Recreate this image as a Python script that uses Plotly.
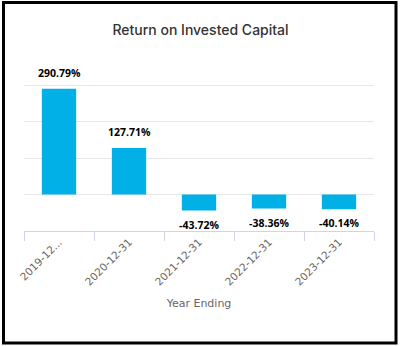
import plotly.graph_objects as go

categories = ["2019-12-31", "2020-12-31", "2021-12-31", "2022-12-31", "2023-12-31"]
tick_labels = ["2019-12...", "2020-12-31", "2021-12-31", "2022-12-31", "2023-12-31"]
roic_values = [290.79, 127.71, -43.72, -38.36, -40.14]
value_labels = ["290.79%", "127.71%", "-43.72%", "-38.36%", "-40.14%"]

W, H = 401, 346
ml, mr, mt, mb = 24, 27, 49, 115
pw = W - ml - mr
ph = H - mt - mb

def px_x(p):
    return (p - ml) / pw

def px_y(p):
    return (H - mb - p) / ph

fig = go.Figure()
fig.add_trace(go.Bar(
    x=categories, y=roic_values,
    marker=dict(color="#00B0E6", line=dict(width=0)),
    width=0.49,
    hoverinfo="skip",
))

for c, v, lab in zip(categories, roic_values, value_labels):
    fig.add_annotation(
        x=c, y=v, text="<b>%s</b>" % lab, showarrow=False,
        yanchor="bottom" if v >= 0 else "top",
        yshift=7 if v >= 0 else -5,
        font=dict(family="Open Sans, sans-serif", size=10.5, color="#000000"),
    )

fig.add_shape(
    type="rect", xref="paper", yref="paper",
    x0=px_x(3.5), x1=px_x(396), y0=px_y(343), y1=px_y(2.5),
    line=dict(color="#000000", width=3), fillcolor="rgba(0,0,0,0)", layer="above",
)

fig.update_layout(
    width=W, height=H,
    margin=dict(l=ml, r=mr, t=mt, b=mb),
    paper_bgcolor="white", plot_bgcolor="white",
    showlegend=False,
    title=dict(
        text="Return on Invested Capital",
        x=0.5, xanchor="center", xref="container",
        y=1 - 30 / H, yanchor="middle", yref="container",
        font=dict(family="Inter, sans-serif", size=14, color="#333333", weight=500),
    ),
    xaxis=dict(
        type="category",
        tickmode="array", tickvals=categories, ticktext=tick_labels,
        tickangle=-45,
        tickfont=dict(family="DejaVu Sans, sans-serif", size=10.5, color="#666666"),
        ticks="outside", tickson="boundaries", ticklen=9, tickcolor="#ccd6eb", tickwidth=1,
        showline=True, linecolor="#ccd6eb", linewidth=1,
        showgrid=False, zeroline=False,
        title=dict(text="Year Ending", standoff=12,
                   font=dict(family="DejaVu Sans, sans-serif", size=11, color="#666666")),
        fixedrange=True,
    ),
    yaxis=dict(
        range=[-100, 400], dtick=100, tick0=0,
        showticklabels=False, ticks="",
        showgrid=True, gridcolor="#e6e6e6", gridwidth=1,
        zeroline=False, showline=False,
        fixedrange=True,
    ),
)

fig.write_html("out.html")
